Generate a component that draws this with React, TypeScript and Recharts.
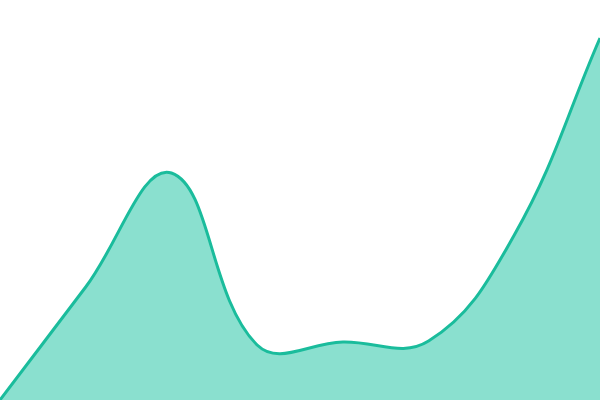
import React from "react";
import { AreaChart, Area, XAxis, YAxis } from "recharts";

const categories = ["A", "B", "C", "D", "E", "F", "G", "H"];
const values = [0, 113, 227, 55, 58, 59, 165, 362];

const data = categories.map((c, i) => ({ name: c, value: values[i] }));

const TENSION = 0.4;

// Chart.js-style spline curve factory (tension-based Bezier) for Recharts
function splineCurve(context: any) {
  let pts: [number, number][] = [];
  let line: number = NaN;
  return {
    areaStart() {
      line = 0;
    },
    areaEnd() {
      line = NaN;
    },
    lineStart() {
      pts = [];
    },
    point(x: number, y: number) {
      pts.push([+x, +y]);
    },
    lineEnd() {
      const n = pts.length;
      if (n > 0) {
        if (line) context.lineTo(pts[0][0], pts[0][1]);
        else context.moveTo(pts[0][0], pts[0][1]);
        const cps: { p: [number, number]; n: [number, number] }[] = [];
        for (let i = 0; i < n; i++) {
          const prev = pts[Math.max(i - 1, 0)];
          const cur = pts[i];
          const next = pts[Math.min(i + 1, n - 1)];
          const d01 = Math.hypot(cur[0] - prev[0], cur[1] - prev[1]);
          const d12 = Math.hypot(next[0] - cur[0], next[1] - cur[1]);
          let s01 = d01 / (d01 + d12);
          let s12 = d12 / (d01 + d12);
          if (isNaN(s01)) s01 = 0;
          if (isNaN(s12)) s12 = 0;
          const fa = TENSION * s01;
          const fb = TENSION * s12;
          cps.push({
            p: [cur[0] - fa * (next[0] - prev[0]), cur[1] - fa * (next[1] - prev[1])],
            n: [cur[0] + fb * (next[0] - prev[0]), cur[1] + fb * (next[1] - prev[1])],
          });
        }
        for (let i = 1; i < n; i++) {
          const a = cps[i - 1].n;
          const b = cps[i].p;
          context.bezierCurveTo(a[0], a[1], b[0], b[1], pts[i][0], pts[i][1]);
        }
      }
      if (line || (line !== 0 && n === 1)) context.closePath();
      line = 1 - line;
    },
  };
}

export default function App() {
  return (
    <div style={{ position: "absolute", left: 0, top: 0, width: 600, height: 400 }}>
      <AreaChart width={600} height={400} data={data} margin={{ top: 0, right: 0, bottom: 0, left: 0 }}>
        <XAxis dataKey="name" hide padding={{ left: 0, right: 0 }} />
        <YAxis hide domain={[0, 400]} />
        <Area
          type={splineCurve as any}
          dataKey="value"
          stroke="#1abc9c"
          strokeWidth={3}
          fill="#8ae0cf"
          fillOpacity={1}
          isAnimationActive={false}
          dot={false}
          activeDot={false}
        />
      </AreaChart>
    </div>
  );
}
